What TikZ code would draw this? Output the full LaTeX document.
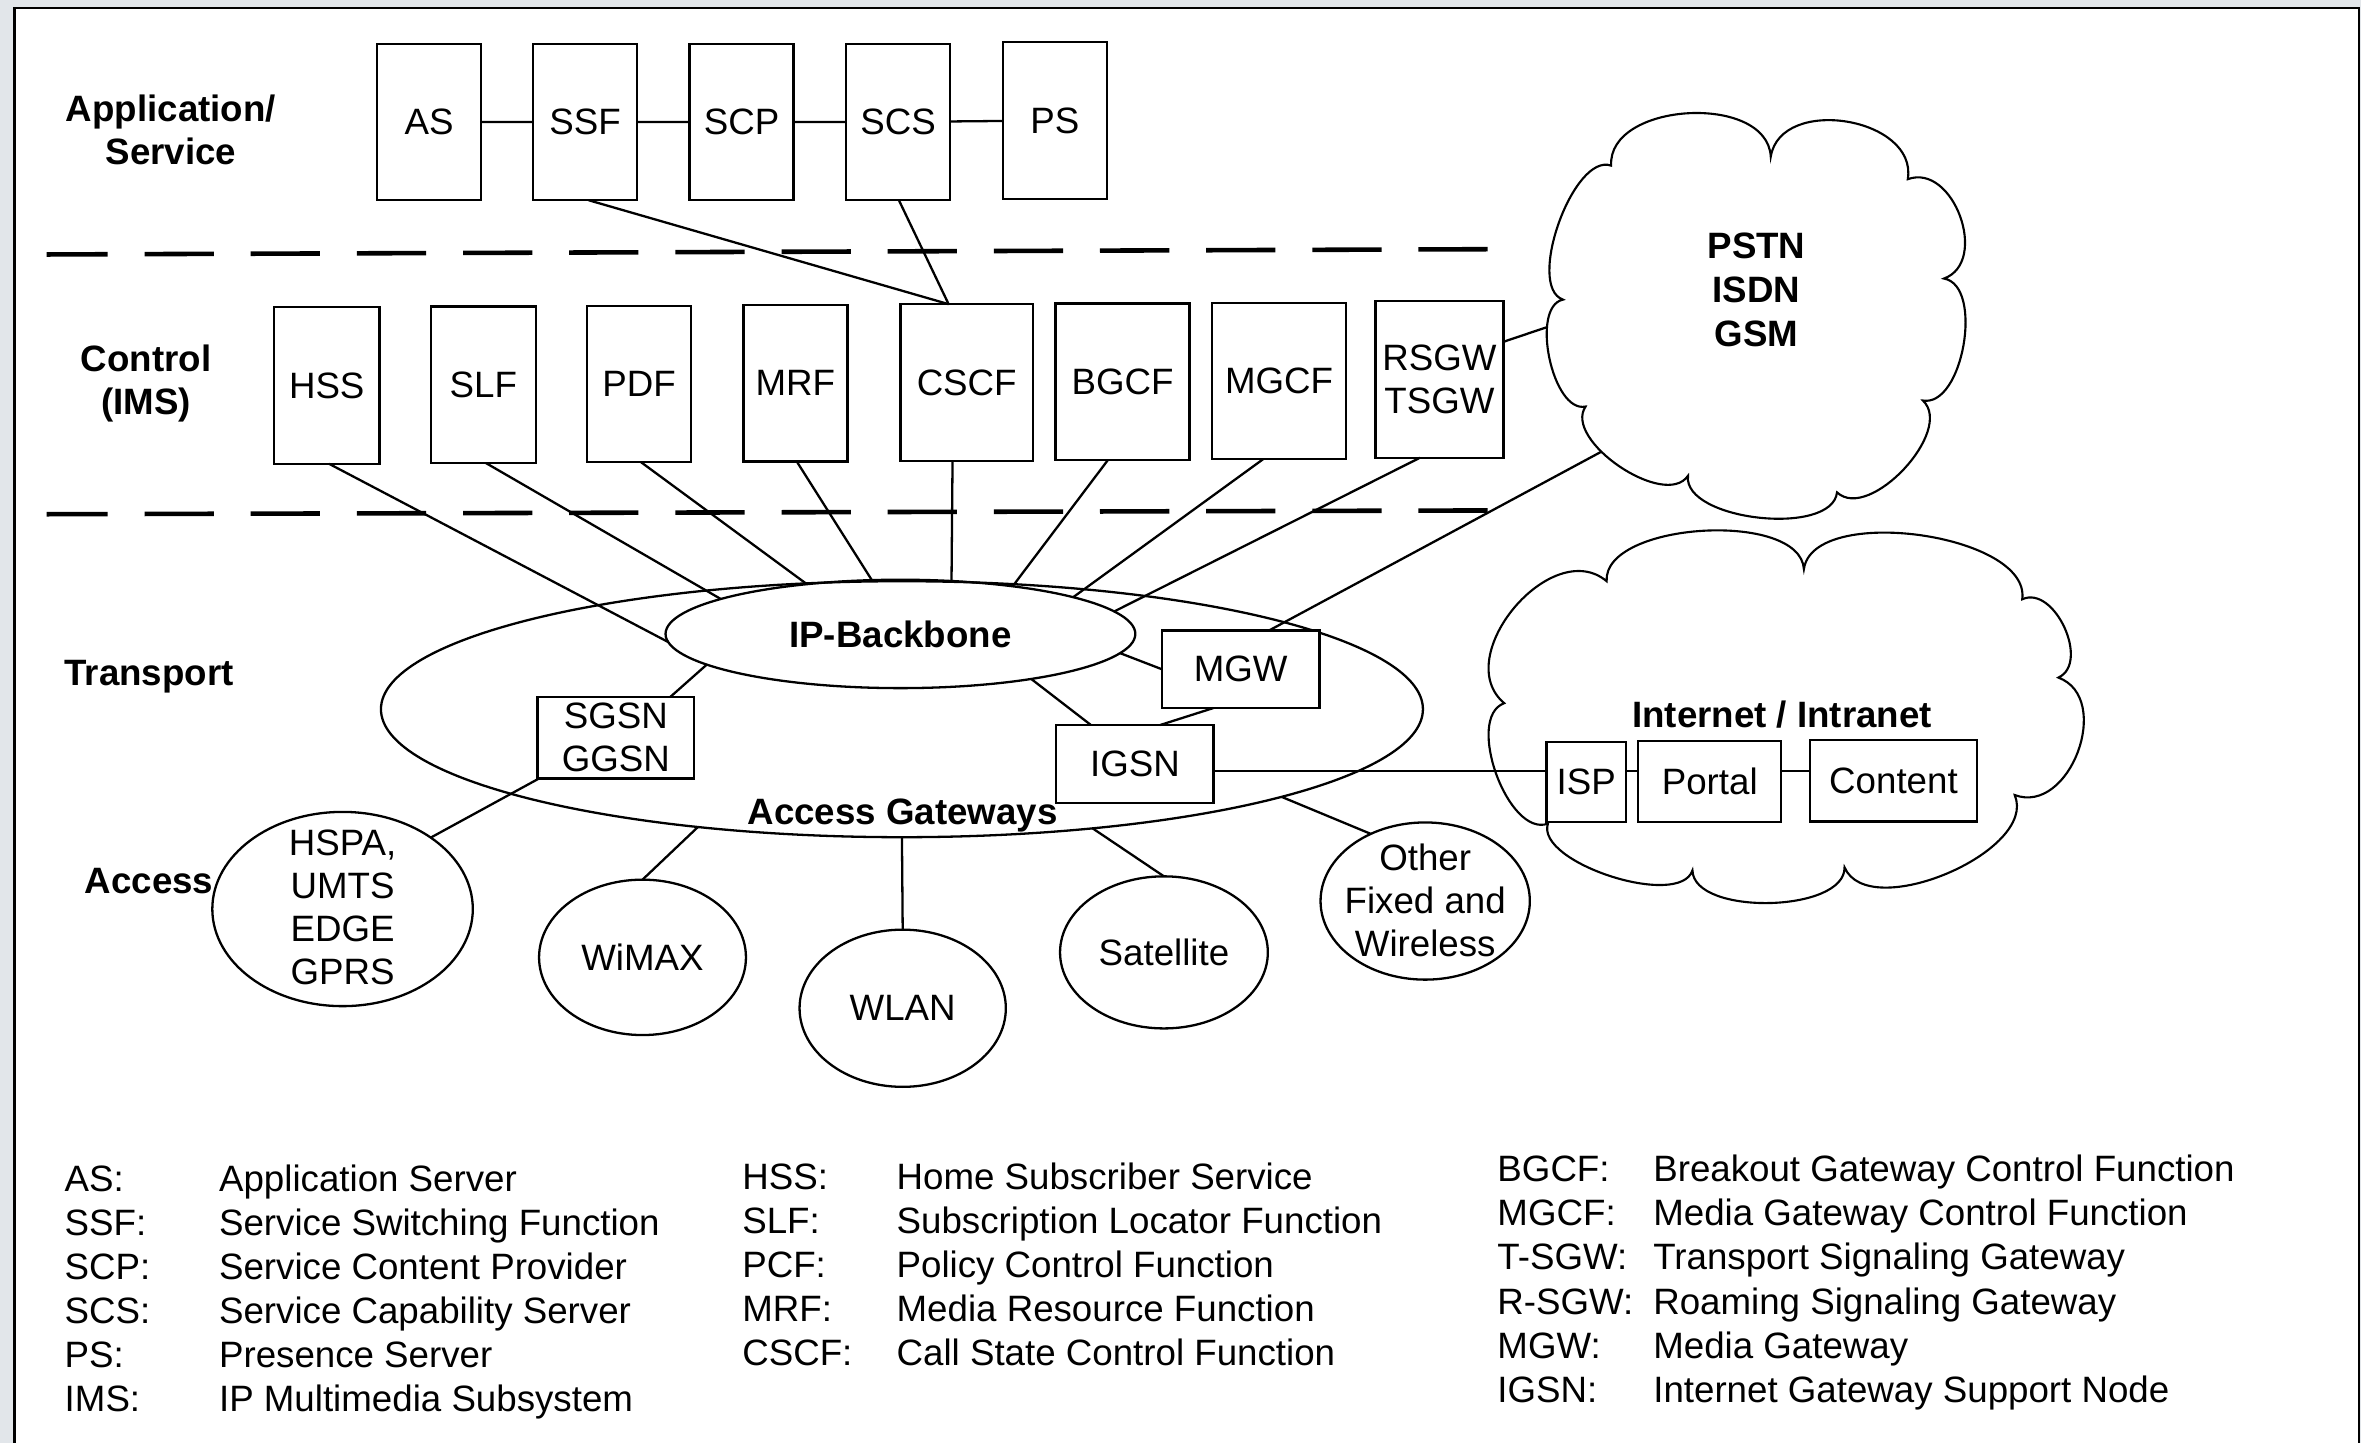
\documentclass[tikz,border=0pt]{standalone}
\usepackage{fontspec}
\setmainfont{Liberation Sans}
\usetikzlibrary{shapes.geometric,calc}
\definecolor{pagegray}{RGB}{226,230,234}
\newlength\gridu
\setlength\gridu{0.15mm}
\begin{document}
\begin{tikzpicture}[x=0.15mm, y=-0.15mm, line width=0.65pt,
  every node/.style={inner sep=0pt, outer sep=0pt},
  txt/.style={font=\fontsize{10.4pt}{12.2pt}\selectfont},
  bold/.style={font=\fontsize{10.4pt}{12.2pt}\selectfont\bfseries},
  box/.style 2 args={draw, fill=white, rectangle, txt, align=center,
    minimum width=#1*\gridu, minimum height=#2*\gridu},
  oval/.style 2 args={draw, ellipse, txt,
    minimum width=#1*\gridu, minimum height=#2*\gridu},
  layer/.style={line width=1.3pt, dash pattern=on 6.9mm off 3.675mm, dash phase=0.825mm},
  puff/.style={to path={.. controls ($(\tikztostart)!#1!90:(\tikztotarget)$)
      and ($(\tikztotarget)!#1!-90:(\tikztostart)$) .. (\tikztotarget)}},
  legendtxt/.style={txt, anchor=base west}]

\useasboundingbox (0,0) rectangle (1568,958);

% page and frame
\fill[pagegray] (0,0) rectangle (1568,958);
\fill[white] (9.6,5.3) rectangle (1566.7,958);
\draw[line width=0.65pt] (9.6,958) -- (9.6,5.3) -- (1566.7,5.3) -- (1566.7,958);

% layer separators
\draw[layer] (31,169) -- (988,165.5);
\draw[layer] (31,341.5) -- (989,339);

% layer names
\node[bold, align=center] (lapp) at (113.5,86) {Application/\\Service};
\node[bold, align=center] (lctl) at (97,254.5) {Control\\(IMS)};
\node[bold, anchor=base] (ltrn) at (99,455) {Transport};
\node[bold, anchor=base] (lacc) at (99,593.4) {Access};

% application / service layer
\node[box={69}{104}] (as)  at (285,81)   {AS};
\node[box={69}{104}] (ssf) at (388.5,81) {SSF};
\node[box={69}{104}] (scp) at (492.5,81) {SCP};
\node[box={69}{104}] (scs) at (596.5,81) {SCS};
\node[box={69}{104}] (ps)  at (700.5,80) {PS};

% control (IMS) layer
\node[box={70}{104}] (hss)  at (217,256)     {HSS};
\node[box={70}{104}] (slf)  at (321,255.5)   {SLF};
\node[box={69}{104}] (pdf)  at (424.5,255)   {PDF};
\node[box={69}{104}] (mrf)  at (528.25,254.5){MRF};
\node[box={88}{104}] (cscf) at (642,254)     {CSCF};
\node[box={89}{104}] (bgcf) at (745.5,253.5) {BGCF};
\node[box={89}{104}] (mgcf) at (849.5,253)   {MGCF};
\node[box={85}{104}] (rsgw) at (956,252)     {RSGW\\TSGW};

% transport layer
\node[oval={692}{170}] (agw) at (599,471) {};
\node[bold, anchor=base] (agwlbl) at (599.5,547.4) {Access Gateways};
\node[oval={312}{72}, bold] (ipb) at (598,421) {IP-Backbone};
\node[box={104}{54}] (sgsn) at (409,490) {SGSN\\GGSN};
\node[box={104.5}{51.5}] (mgw) at (824,444.5) {MGW};
\node[box={104.5}{52}] (igsn) at (753.75,507.5) {IGSN};

% internet / intranet cloud
\draw[line width=0.6pt] (1198,378) to[puff=0.30] (1343,398) to[puff=0.41] (1367,450)
  to[puff=0.47] (1338,528) to[puff=0.33] (1225,576) to[puff=0.30] (1124,578)
  to[puff=0.27] (1028,547) to[puff=0.33] (999,467) to[puff=0.45] (1067,386)
  to[puff=0.30] (1198,378) -- cycle;
\node[bold, anchor=base] (inetlbl) at (1183.5,483.4) {Internet / Intranet};
\node[box={53}{53}]  (isp)     at (1053.5,519.5) {ISP};
\node[box={95}{54}]  (portal)  at (1135.5,519)   {Portal};
\node[box={111}{54}] (content) at (1257.5,518.6) {Content};

% access networks
\node[oval={173}{129}] (hspa) at (227.5,603.7) {};
\node[txt, align=center] (hspatxt) at (227.5,602.6) {HSPA,\\UMTS\\EDGE\\GPRS};
\node[oval={137.4}{103.2}] (wimax) at (426.7,635.8) {WiMAX};
\node[oval={137}{104.4}] (wlan) at (599.5,669.6) {WLAN};
\node[oval={138}{101}] (sat) at (773,632.5) {Satellite};
\node[oval={139}{104.4}] (other) at (946.5,598.4) {};
\node[txt, align=center] (othertxt) at (946.5,597.9) {Other\\Fixed and\\Wireless};

% link points inside the PSTN cloud
\coordinate (pstnA) at (1040,213);
\coordinate (pstnB) at (1072,295.4);
\coordinate (yline) at (0,512);

% service chain
\draw (as) -- (ssf) (ssf) -- (scp) (scp) -- (scs) (scs) -- (ps);
\draw ([xshift=37*\gridu]ssf.south west) -- ([xshift=32*\gridu]cscf.north west);
\draw ([xshift=35*\gridu]scs.south west) -- ([xshift=32*\gridu]cscf.north west);

% control functions to the backbone
\draw ([xshift=36.5*\gridu]hss.south west)  -- (ipb.182);
\draw ([xshift=36.7*\gridu]slf.south west)  -- (ipb.169);
\draw ([xshift=35.8*\gridu]pdf.south west)  -- (ipb.152);
\draw ([xshift=35.4*\gridu]mrf.south west)  -- (ipb.118);
\draw ([xshift=34.6*\gridu]cscf.south west) -- (ipb.46);
\draw ([xshift=34.8*\gridu]bgcf.south west) -- (ipb.23);
\draw ([xshift=33.8*\gridu]mgcf.south west) -- (ipb.12);
\draw ([xshift=29.5*\gridu]rsgw.south west) -- (ipb.6);
\draw ($(rsgw.east)+(0,-25)$) -- (pstnA);

% gateways
\draw (ipb.-5) -- (mgw.west);
\draw (ipb.-19) -- ([xshift=23*\gridu]igsn.north west);
\draw ([xshift=34*\gridu]mgw.south west) -- ([xshift=69*\gridu]igsn.north west);
\draw (pstnB) -- ([xshift=71*\gridu]mgw.north west);
\draw (ipb.189) -- ([xshift=88*\gridu]sgsn.north west);
\draw (igsn.east |- yline) -- (isp.west |- yline);
\draw (isp.east |- yline) -- (portal.west |- yline);
\draw (portal.east |- yline) -- (content.west |- yline);

% access links
\draw ([xshift=1*\gridu]sgsn.south west) -- (hspa.39);
\draw (agw.210) -- (wimax.north);
\draw (agw.south) -- (wlan.north);
\draw (agw.-32) -- (sat.north);
\draw (agw.-13.5) -- (other.129);

% PSTN / ISDN / GSM cloud
\draw[line width=0.6pt, fill=white] (1176,104) to[puff=0.45] (1267,119) to[puff=0.46] (1291,185)
  to[puff=0.33] (1277,266) to[puff=0.35] (1220,327) to[puff=0.30] (1121,316)
  to[puff=0.33] (1053,270) to[puff=0.31] (1038,199) to[puff=0.28] (1070,110)
  to[puff=0.40] (1176,104) -- cycle;
\node[align=center, font=\fontsize{10.4pt}{12.5pt}\selectfont\bfseries] (pstntxt)
  at (1166.5,192.5) {PSTN\\ISDN\\GSM};

% abbreviations
\foreach \ab/\tx [count=\k from 0] in {AS:/Application Server,
    SSF:/Service Switching Function, SCP:/Service Content Provider,
    SCS:/Service Capability Server, PS:/Presence Server,
    IMS:/IP Multimedia Subsystem}{
  \node[legendtxt] (la\k) at (43, 791+29.25*\k) {\ab};
  \node[legendtxt] (lb\k) at (145.5, 791+29.25*\k) {\tx};
}
\foreach \ab/\tx [count=\k from 0] in {HSS:/Home Subscriber Service,
    SLF:/Subscription Locator Function, PCF:/Policy Control Function,
    MRF:/Media Resource Function, CSCF:/Call State Control Function}{
  \node[legendtxt] (lc\k) at (493, 789.9+29.3*\k) {\ab};
  \node[legendtxt] (ld\k) at (595.5, 789.9+29.3*\k) {\tx};
}
\foreach \ab/\tx [count=\k from 0] in {BGCF:/Breakout Gateway Control Function,
    MGCF:/Media Gateway Control Function, T-SGW:/Transport Signaling Gateway,
    R-SGW:/Roaming Signaling Gateway, MGW:/Media Gateway,
    IGSN:/Internet Gateway Support Node}{
  \node[legendtxt] (le\k) at (994.5, 784.4+29.45*\k) {\ab};
  \node[legendtxt] (lf\k) at (1098, 784.4+29.45*\k) {\tx};
}
\end{tikzpicture}
\end{document}
